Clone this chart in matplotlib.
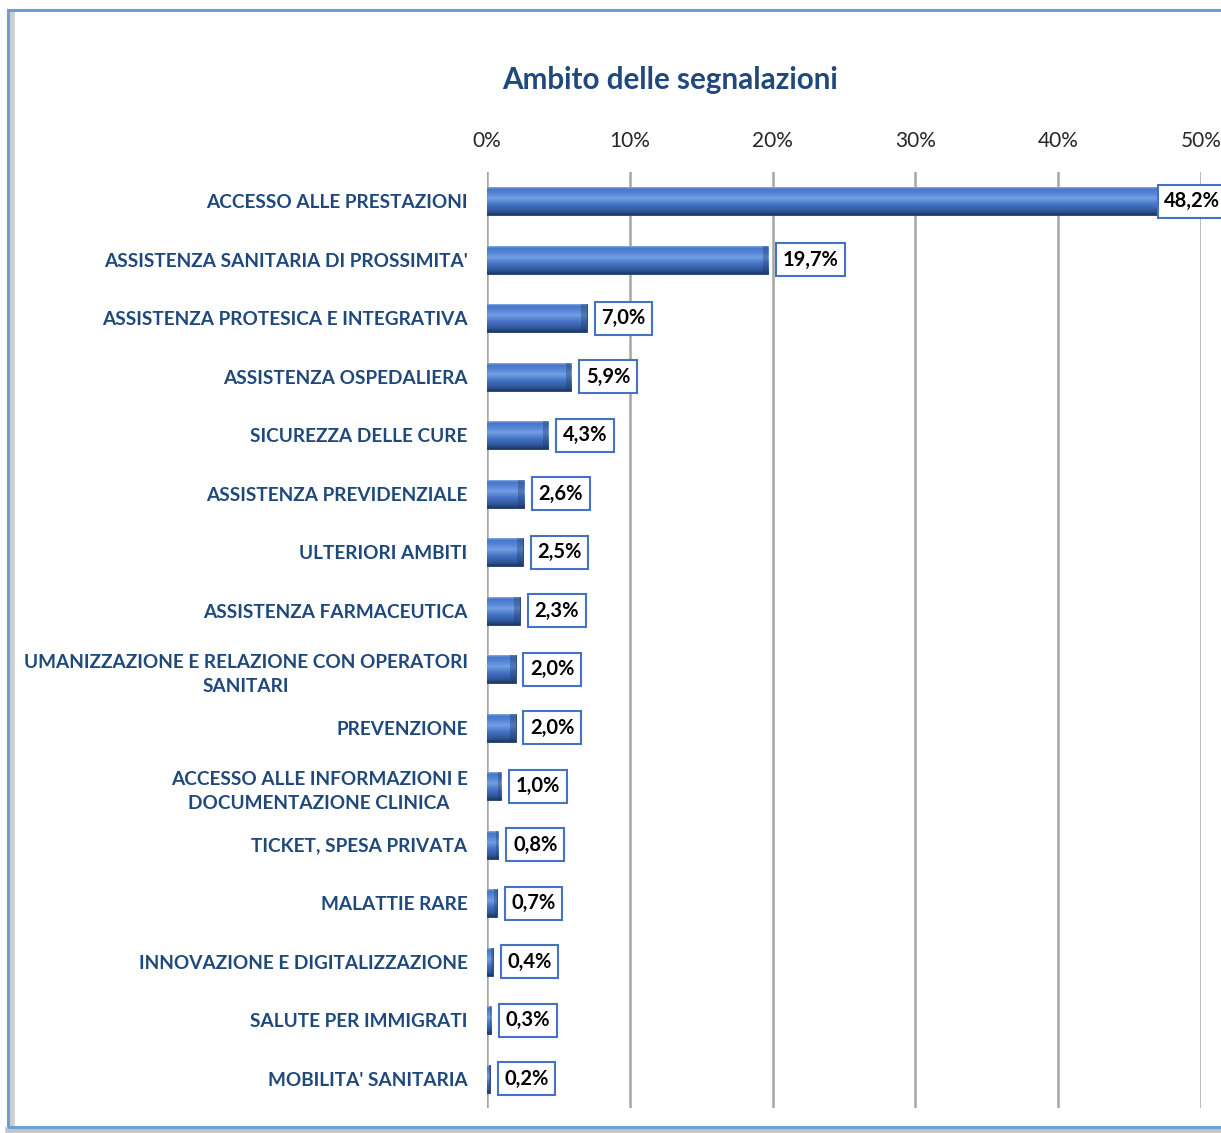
import numpy as np
import matplotlib.pyplot as plt
from matplotlib.colors import LinearSegmentedColormap
from matplotlib.patches import Rectangle
from matplotlib.lines import Line2D

# dati
categorie = [
    "ACCESSO ALLE PRESTAZIONI",
    "ASSISTENZA SANITARIA DI PROSSIMITA'",
    "ASSISTENZA PROTESICA E INTEGRATIVA",
    "ASSISTENZA OSPEDALIERA",
    "SICUREZZA DELLE CURE",
    "ASSISTENZA PREVIDENZIALE",
    "ULTERIORI AMBITI",
    "ASSISTENZA FARMACEUTICA",
    "UMANIZZAZIONE E RELAZIONE CON OPERATORI\nSANITARI",
    "PREVENZIONE",
    "ACCESSO ALLE INFORMAZIONI E\nDOCUMENTAZIONE CLINICA",
    "TICKET, SPESA PRIVATA",
    "MALATTIE RARE",
    "INNOVAZIONE E DIGITALIZZAZIONE",
    "SALUTE PER IMMIGRATI",
    "MOBILITA' SANITARIA",
]
valori = [48.2, 19.7, 7.0, 5.9, 4.3, 2.6, 2.5, 2.3, 2.0, 2.0, 1.0, 0.8, 0.7, 0.4, 0.3, 0.2]
tick_pos = [0, 10, 20, 30, 40, 50]
tick_lab = ["0%", "10%", "20%", "30%", "40%", "50%"]

blu_testo = "#1F497D"
font = "Lato"
W, H = 1221, 1133

fig = plt.figure(figsize=(12.21, 11.33), dpi=100)
fig.patch.set_facecolor("white")

# cornice del grafico con ombra
fig.lines.append(Line2D([12 / W, 12 / W], [0, 1 - 12 / H], transform=fig.transFigure,
                        color="#CFCFCF", lw=4, zorder=-2))
fig.lines.append(Line2D([8 / W, 1.1], [3 / H, 3 / H], transform=fig.transFigure,
                        color="#C4C4C4", lw=4, zorder=-2))
fig.patches.append(Rectangle((8 / W, 6 / H), 1.2, 1 - 16 / H, transform=fig.transFigure,
                             facecolor="none", edgecolor="#6A9FD8", lw=2.2, zorder=-1))

ax = fig.add_axes([487 / W, 1 - 1108 / H, (1201 - 487) / W, (1108 - 172) / H])
ax.set_facecolor("none")

y = np.arange(len(categorie))
barre = ax.barh(y, valori, height=0.48, color="#4472C4", edgecolor="#1F3864", lw=0.6, zorder=3)

# sfumatura "cilindro" sulle barre
cmap = LinearSegmentedColormap.from_list("cil", [
    (0.0, "#1F3864"), (0.12, "#2E5597"), (0.35, "#4472C4"),
    (0.58, "#729EE2"), (0.72, "#5889D8"), (0.9, "#4776C8"), (1.0, "#A3C1EE")])
grad = np.linspace(0, 1, 64).reshape(-1, 1)
for b in barre:
    x0, y0 = b.get_x(), b.get_y()
    w, h = b.get_width(), b.get_height()
    im = ax.imshow(grad, cmap=cmap, aspect="auto", origin="lower",
                   extent=(x0, x0 + w, y0 + h, y0), zorder=3.5)
    im.set_clip_path(b)
    # estremità destra più scura
    ew = min(0.4, w * 0.25)
    ax.add_patch(Rectangle((x0 + w - ew, y0), ew, h, facecolor="#1F3864", alpha=0.35,
                           lw=0, zorder=3.6))

for yi, v in zip(y, valori):
    # l'etichetta della barra più lunga viene spostata sopra la fine della barra
    dx = 10.5 if v < 45 else -8
    ax.annotate(f"{v:.1f}%".replace(".", ","), xy=(v, yi), xytext=(dx, 0),
                textcoords="offset points", ha="left", va="center",
                fontsize=14.5, fontweight="bold", color="black", family=font,
                bbox=dict(boxstyle="square,pad=0.33", fc="white", ec="#4472C4", lw=1.5),
                annotation_clip=False, zorder=5)

ax.set_xlim(0, 50)
ax.set_ylim(len(categorie) - 0.5, -0.5)
ax.set_xticks(tick_pos)
ax.set_xticklabels(tick_lab, family=font, fontsize=15, color="#262626")
ax.xaxis.tick_top()
ax.set_yticks(y)
ax.set_yticklabels(categorie, family=font, fontsize=13.7, fontweight="bold",
                   color=blu_testo, multialignment="center", linespacing=1.55)
ax.tick_params(axis="both", length=0)
ax.tick_params(axis="y", pad=14)
ax.tick_params(axis="x", pad=15)
ax.grid(axis="x", color="#A6A6A6", lw=1.8, zorder=1)
ax.set_axisbelow(True)
for s in ax.spines.values():
    s.set_visible(False)

fig.text(670 / W, 1 - 80 / H, "Ambito delle segnalazioni", ha="center", va="center",
         fontsize=21.3, fontweight="bold", color=blu_testo, family=font)

fig.savefig("out.png", dpi=100)
